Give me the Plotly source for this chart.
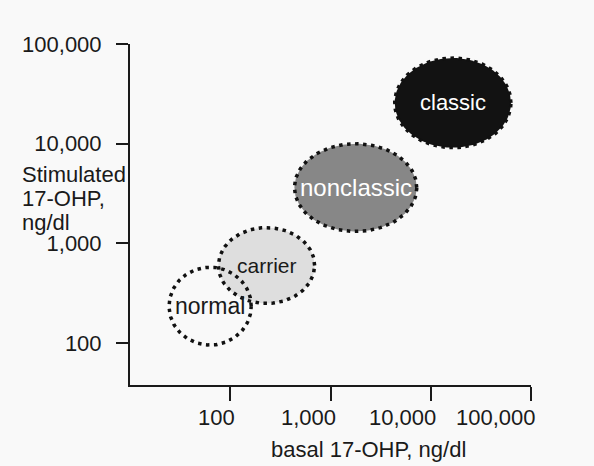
import numpy as np
import plotly.graph_objects as go

# ---- data ----
groups = ["classic", "nonclassic", "carrier", "normal"]
basal_center = [16600, 1780, 230, 63]          # ng/dl (x centre)
stim_center = [25700, 3630, 600, 235]          # ng/dl (y centre)
basal_spread = [0.58, 0.61, 0.48, 0.41]        # half-width, decades
stim_spread = [0.45, 0.44, 0.38, 0.39]         # half-height, decades
fill_colors = ["#121212", "#878787", "#dedede", "rgba(0,0,0,0)"]
label_colors = ["white", "white", "#1a1a1a", "#1a1a1a"]
label_sizes = [22, 24, 21, 23]

tick_vals = [100, 1000, 10000, 100000]
tick_text = ["100", "1,000", "10,000", "100,000"]

FONT = "Liberation Sans, Arial, sans-serif"
INK = "#1a1a1a"

fig = go.Figure()
t = np.linspace(0, 2 * np.pi, 181)
for g, cx, cy, rx, ry, fc in zip(groups, basal_center, stim_center,
                                 basal_spread, stim_spread, fill_colors):
    lx, ly = np.log10(cx), np.log10(cy)
    xs = 10 ** (lx + rx * np.cos(t))
    ys = 10 ** (ly + ry * np.sin(t))
    fig.add_trace(go.Scatter(
        x=xs, y=ys, mode="lines", fill="toself", fillcolor=fc,
        line=dict(color="#111111", width=3.5, dash="3.5px,4.5px"),
        name=g, hoverinfo="skip", showlegend=False))

annotations = []
for g, cx, cy, lc, ls in zip(groups, basal_center, stim_center, label_colors, label_sizes):
    annotations.append(dict(x=np.log10(cx), y=np.log10(cy), xref="x", yref="y",
                            text=g, showarrow=False,
                            font=dict(family=FONT, size=ls, color=lc)))

# x tick labels (right-aligned to their ticks, as in the original)
for v, s in zip(tick_vals, tick_text):
    annotations.append(dict(x=np.log10(v), y=0, xref="x", yref="paper",
                            text=s, showarrow=False, xanchor="right", yanchor="middle",
                            xshift=7, yshift=-32,
                            font=dict(family=FONT, size=22, color=INK)))

# axis titles
annotations.append(dict(x=0.595, y=0, xref="paper", yref="paper",
                        text="basal 17-OHP, ng/dl", showarrow=False,
                        xanchor="center", yanchor="middle", yshift=-64,
                        font=dict(family=FONT, size=22, color=INK)))
for line, yp in zip(["Stimulated", "17-OHP,", "ng/dl"], [0.616, 0.546, 0.476]):
    annotations.append(dict(x=-0.274, y=yp, xref="paper", yref="paper",
                            text=line, showarrow=False, xanchor="left", yanchor="middle",
                            font=dict(family=FONT, size=22, color=INK)))

fig.update_layout(
    width=594, height=466,
    margin=dict(l=130, r=63, t=44, b=81),
    paper_bgcolor="#f9f9f9", plot_bgcolor="#f9f9f9",
    showlegend=False, hovermode=False,
    annotations=annotations,
    font=dict(family=FONT, size=21, color=INK),
)
fig.update_xaxes(type="log", range=[1, 5], showgrid=False, zeroline=False,
                 showline=True, linecolor=INK, linewidth=2,
                 ticks="outside", ticklen=14, tickwidth=2, tickcolor=INK,
                 tickvals=tick_vals, showticklabels=False)
fig.update_yaxes(type="log", range=[1.58, 5], showgrid=False, zeroline=False,
                 showline=True, linecolor=INK, linewidth=2,
                 ticks="outside", ticklen=12, tickwidth=2, tickcolor=INK,
                 tickvals=tick_vals, ticktext=tick_text, ticklabelstandoff=10,
                 tickfont=dict(family=FONT, size=22, color=INK))

fig.write_html("out.html", config={"displayModeBar": False},
               post_script="document.body.style.margin='0';document.body.style.background='#f9f9f9';")
